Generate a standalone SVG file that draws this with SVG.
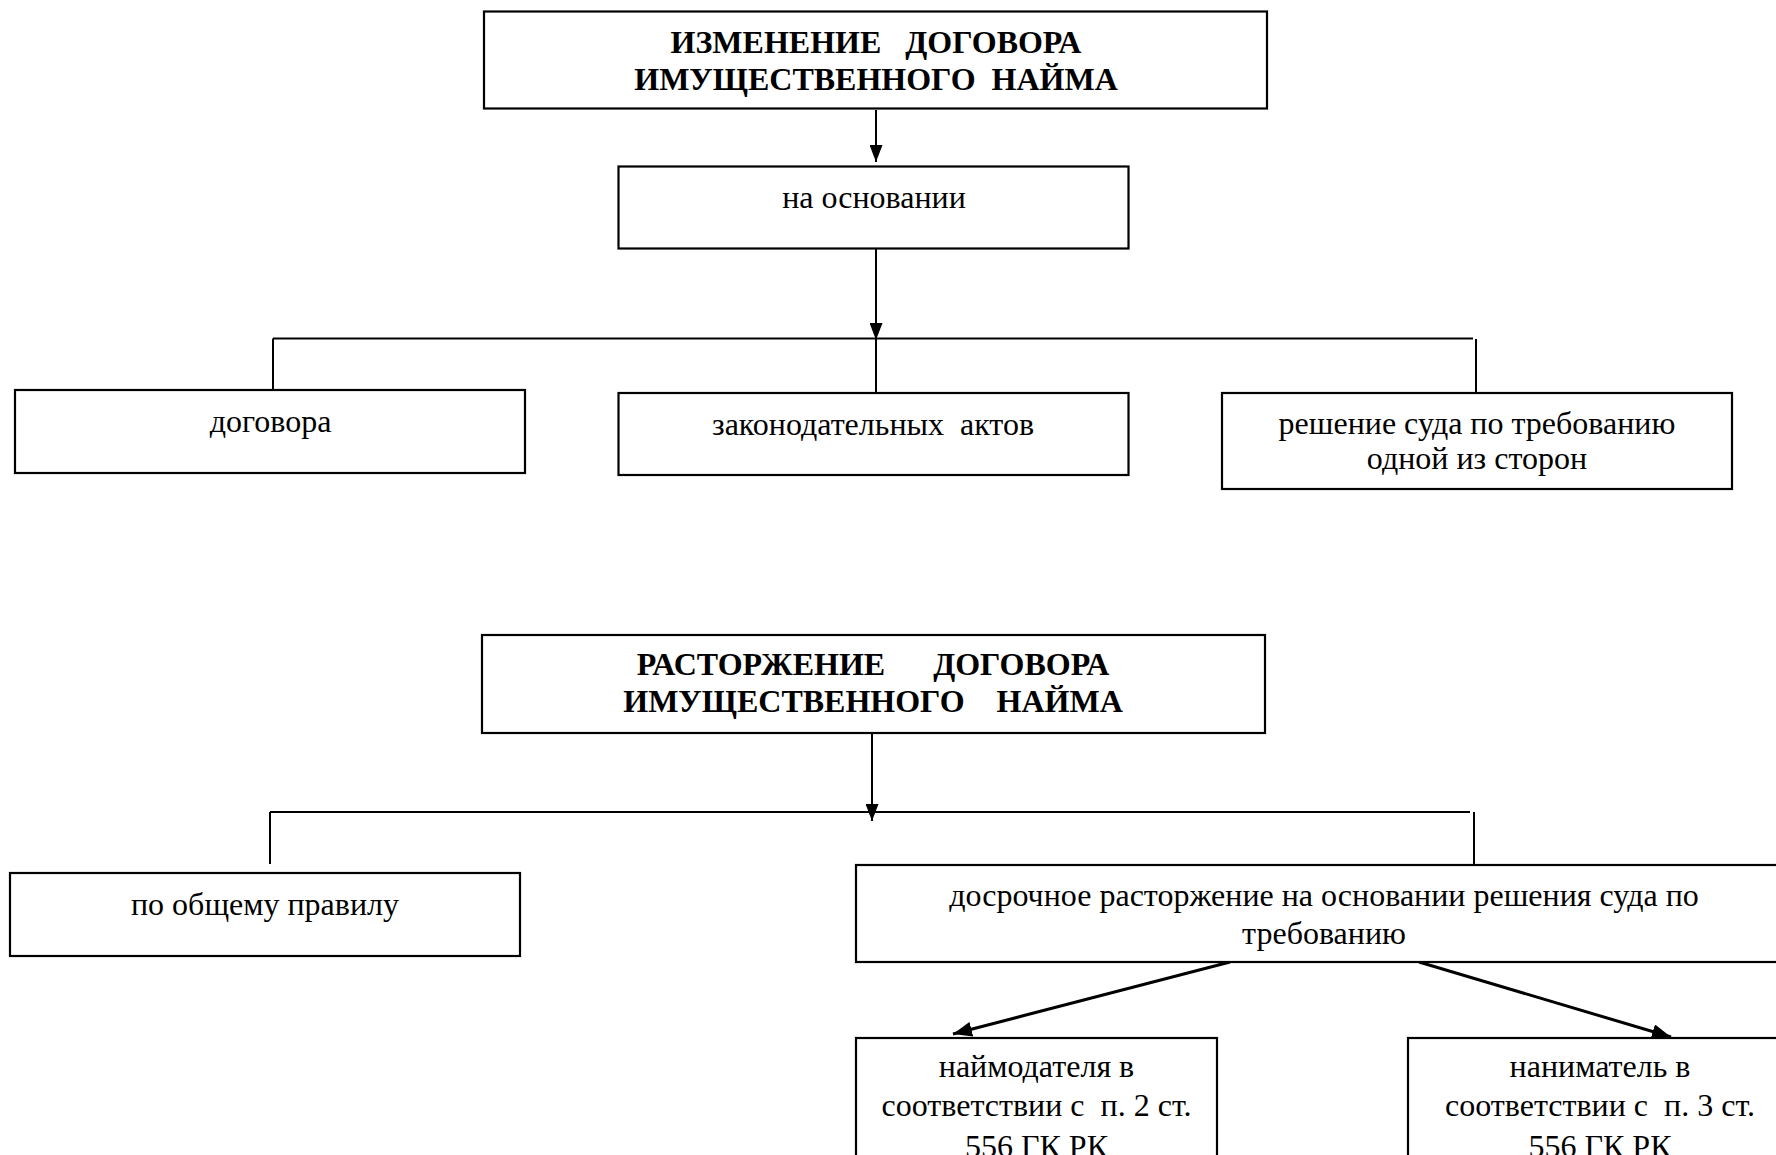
<svg xmlns="http://www.w3.org/2000/svg" width="1776" height="1155" viewBox="0 0 1776 1155">
<defs>
<marker id="ah" viewBox="0 0 17 13" refX="17" refY="6.5" markerWidth="17" markerHeight="13" markerUnits="userSpaceOnUse" orient="auto"><path d="M0,0 L17,6.5 L0,13 z" fill="#000"/></marker>
<marker id="ahd" viewBox="0 0 19 15" refX="19" refY="7.5" markerWidth="19" markerHeight="15" markerUnits="userSpaceOnUse" orient="auto"><path d="M0,0 L19,7.5 L0,15 z" fill="#000"/></marker>
<style>
.box{fill:#fff;stroke:#000;stroke-width:2.2}
.t{font-family:"Liberation Serif","Times New Roman",serif;font-size:32px;fill:#000;text-anchor:middle;white-space:pre}
.b{font-weight:bold}
.ln{stroke:#000;stroke-width:2;fill:none}
.dg{stroke:#000;stroke-width:3;fill:none}
</style>
</defs>
<rect width="1776" height="1155" fill="#fff"/>
<g id="connectors">
<path class="ln" d="M876,110 V162" marker-end="url(#ah)"/>
<path class="ln" d="M876,248 V340" marker-end="url(#ah)"/>
<path class="ln" d="M273,338.5 H1473"/>
<path class="ln" d="M273,338.5 V390"/>
<path class="ln" d="M876,338.5 V393"/>
<path class="ln" d="M1476,339 V393"/>
<path class="ln" d="M872,733 V821" marker-end="url(#ah)"/>
<path class="ln" d="M270,812 H1470"/>
<path class="ln" d="M270,812 V864"/>
<path class="ln" d="M1474,812 V865"/>
<path class="dg" d="M1230,962 L953,1034" marker-end="url(#ahd)"/>
<path class="dg" d="M1419,962 L1671,1037" marker-end="url(#ahd)"/>
</g>
<g id="n1">
<rect class="box" x="484" y="11.5" width="783" height="97"/>
<text class="t b" x="876" y="53" xml:space="preserve">ИЗМЕНЕНИЕ   ДОГОВОРА</text>
<text class="t b" x="876" y="90" xml:space="preserve">ИМУЩЕСТВЕННОГО  НАЙМА</text>
</g>
<g id="n2">
<rect class="box" x="618.5" y="166.5" width="510" height="82"/>
<text class="t" x="874" y="208">на основании</text>
</g>
<g id="n3">
<rect class="box" x="15" y="390" width="510" height="83"/>
<text class="t" x="270.5" y="432">договора</text>
</g>
<g id="n4">
<rect class="box" x="618.5" y="393" width="510" height="82"/>
<text class="t" x="873" y="435" xml:space="preserve">законодательных  актов</text>
</g>
<g id="n5">
<rect class="box" x="1222" y="393" width="510" height="96"/>
<text class="t" x="1477" y="434">решение суда по требованию</text>
<text class="t" x="1477" y="469">одной из сторон</text>
</g>
<g id="n6">
<rect class="box" x="482" y="635" width="783" height="98"/>
<text class="t b" x="873" y="675" xml:space="preserve">РАСТОРЖЕНИЕ      ДОГОВОРА</text>
<text class="t b" x="873" y="712" xml:space="preserve">ИМУЩЕСТВЕННОГО    НАЙМА</text>
</g>
<g id="n7">
<rect class="box" x="10" y="873" width="510" height="83"/>
<text class="t" x="265" y="915">по общему правилу</text>
</g>
<g id="n8">
<rect class="box" x="856" y="865" width="940" height="97"/>
<text class="t" x="1324" y="906">досрочное расторжение на основании решения суда по</text>
<text class="t" x="1324" y="943.5">требованию</text>
</g>
<g id="n9">
<rect class="box" x="856" y="1038" width="361" height="140"/>
<text class="t" x="1036.5" y="1077">наймодателя в</text>
<text class="t" x="1036.5" y="1116" xml:space="preserve">соответствии с  п. 2 ст.</text>
<text class="t" x="1036.5" y="1157">556 ГК РК</text>
</g>
<g id="n10">
<rect class="box" x="1408" y="1038" width="390" height="140"/>
<text class="t" x="1600" y="1077">наниматель в</text>
<text class="t" x="1600" y="1116" xml:space="preserve">соответствии с  п. 3 ст.</text>
<text class="t" x="1600" y="1157">556 ГК РК</text>
</g>
</svg>
